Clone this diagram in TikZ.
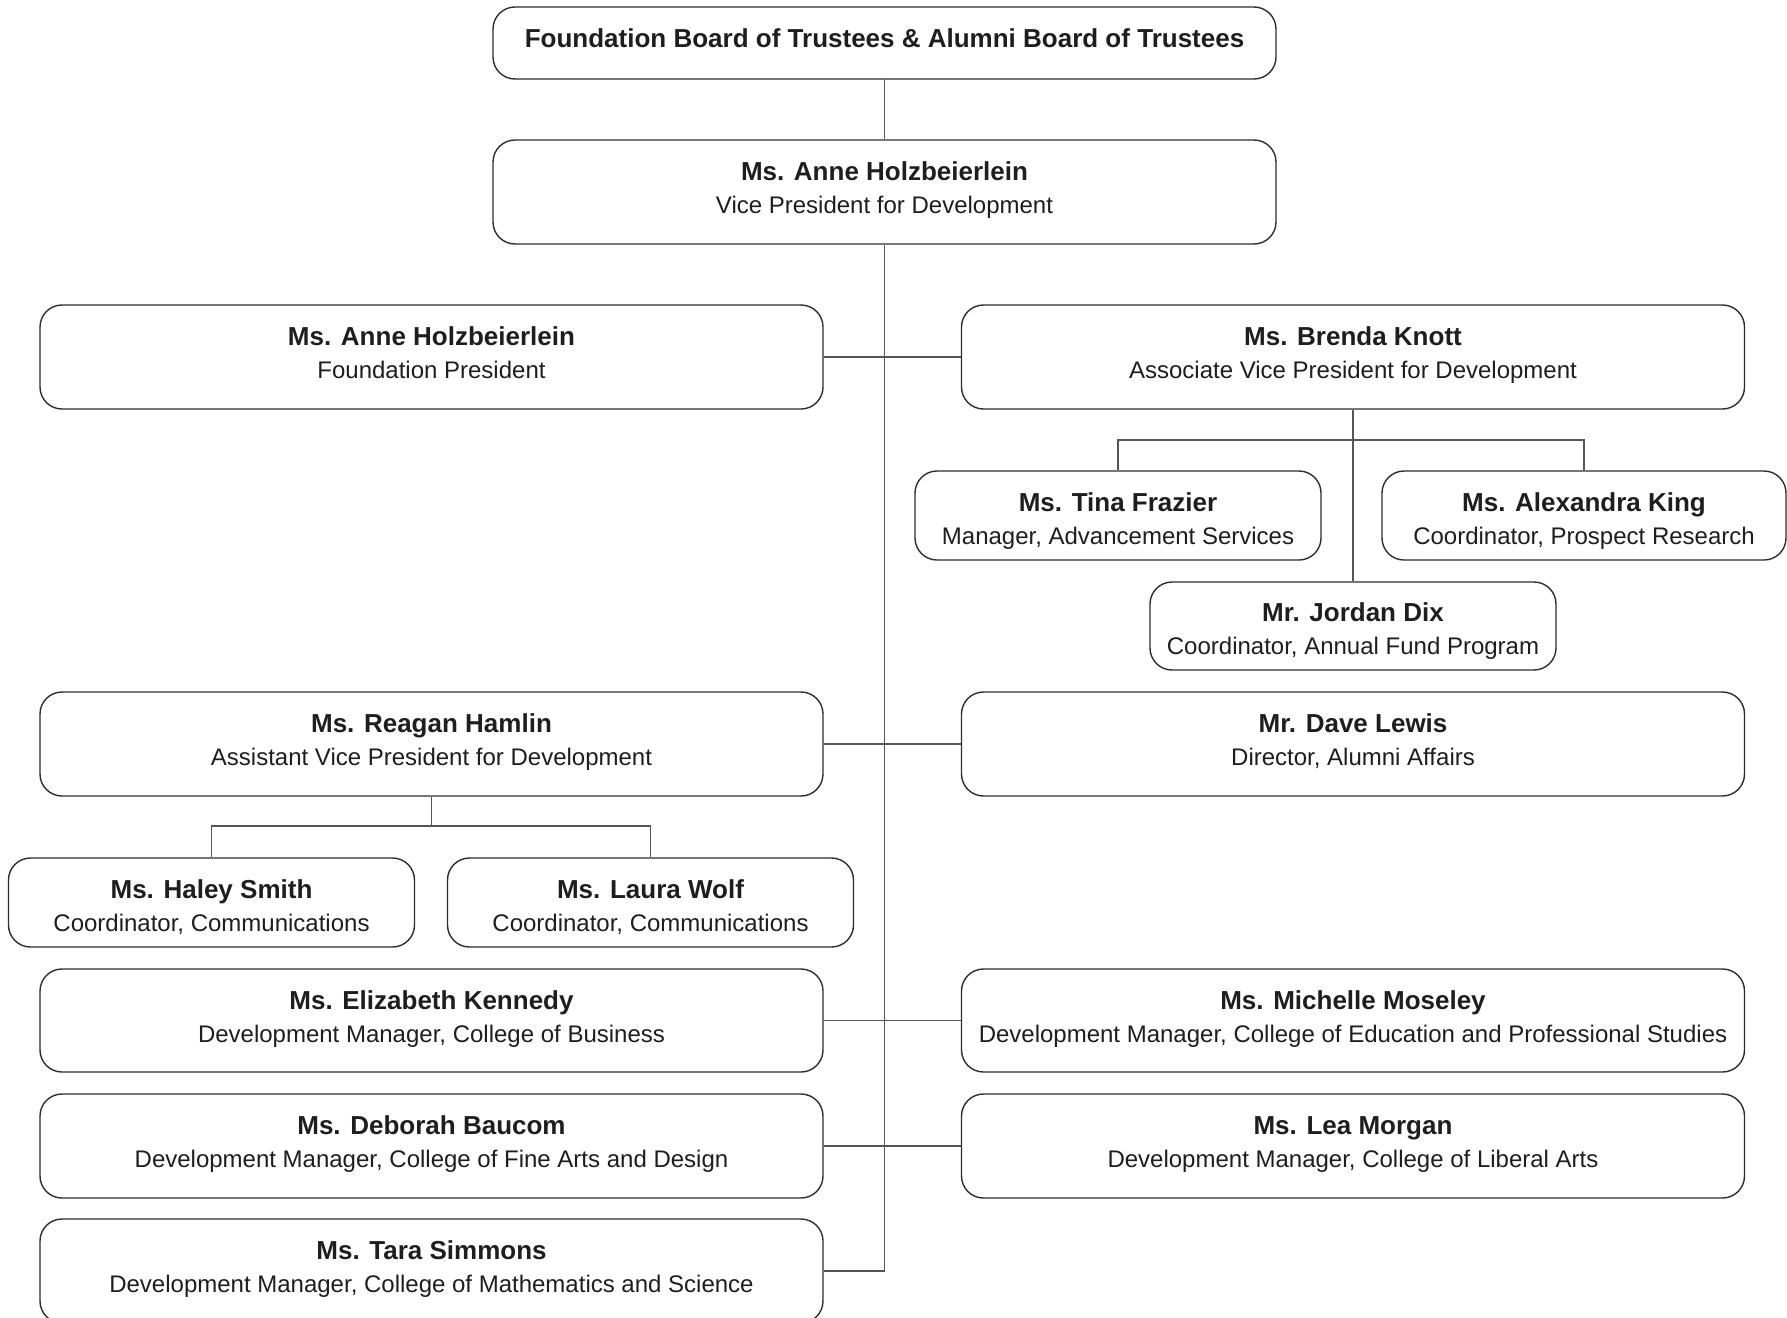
\documentclass[tikz,border=0pt]{standalone}
\usepackage{fontspec}
\setmainfont{Liberation Sans}
\definecolor{boxc}{HTML}{2E2E2E}
\definecolor{linec}{HTML}{555555}
\definecolor{txtc}{HTML}{1E1E1E}
\newcommand\pname[1]{{\fontsize{26}{33}\selectfont\bfseries #1}}
\newcommand\wtxt[2]{\rule{0pt}{20pt}\pname{#1}\\#2\rule[-10pt]{0pt}{0pt}}
\newcommand\stxt[2]{\rule{0pt}{30pt}\pname{#1}\\#2\rule[-6pt]{0pt}{0pt}}
\tikzset{
  box/.style={draw=boxc, line width=1.4pt, rounded corners=22pt, align=center,
    inner sep=0pt, text=txtc, font=\fontsize{24}{33}\selectfont},
  wide/.style={box, minimum width=783pt, minimum height=104pt},
  small/.style={box, minimum width=406pt, minimum height=89pt},
  conn/.style={draw=linec, line width=1.4pt}
}
\begin{document}
\begin{tikzpicture}[x=1pt,y=-1pt]
\useasboundingbox (0,0) rectangle (1787,1317);
\fill[white] (0,0) rectangle (1787,1317);

\node[box, minimum width=783pt, minimum height=72pt] (top) at (884.5,43) {\rule[-11pt]{0pt}{31pt}\pname{Foundation Board of Trustees \& Alumni Board of Trustees}};
\node[wide] (vp) at (884.5,192) {\wtxt{Ms. Anne Holzbeierlein}{Vice President for Development}};
\node[wide] (fp) at (431.5,357) {\wtxt{Ms. Anne Holzbeierlein}{Foundation President}};
\node[wide] (bk) at (1353,357) {\wtxt{Ms. Brenda Knott}{Associate Vice President for Development}};
\node[small] (tf) at (1118,515.5) {\stxt{Ms. Tina Frazier}{Manager, Advancement Services}};
\node[small, minimum width=404pt] (ak) at (1584,515.5) {\stxt{Ms. Alexandra King}{Coordinator, Prospect Research}};
\node[small, minimum height=88pt] (jd) at (1353,626) {\stxt{Mr. Jordan Dix}{Coordinator, Annual Fund Program}};
\node[wide] (rh) at (431.5,744) {\wtxt{Ms. Reagan Hamlin}{Assistant Vice President for Development}};
\node[wide] (dl) at (1353,744) {\wtxt{Mr. Dave Lewis}{Director, Alumni Affairs}};
\node[small] (hs) at (211.5,902.5) {\stxt{Ms. Haley Smith}{Coordinator, Communications}};
\node[small] (lw) at (650.5,902.5) {\stxt{Ms. Laura Wolf}{Coordinator, Communications}};
\node[wide, minimum height=103pt] (ek) at (431.5,1020.5) {\wtxt{Ms. Elizabeth Kennedy}{Development Manager, College of Business}};
\node[wide, minimum height=103pt] (mm) at (1353,1020.5) {\wtxt{Ms. Michelle Moseley}{Development Manager, College of Education and Professional Studies}};
\node[wide] (db) at (431.5,1146) {\wtxt{Ms. Deborah Baucom}{Development Manager, College of Fine Arts and Design}};
\node[wide] (lm) at (1353,1146) {\wtxt{Ms. Lea Morgan}{Development Manager, College of Liberal Arts}};
\node[wide] (ts) at (431.5,1271) {\wtxt{Ms. Tara Simmons}{Development Manager, College of Mathematics and Science}};

\coordinate (bkbar) at (1353,440);
\coordinate (rhbar) at (431.5,826);

\draw[conn] (top.south) -- (vp.north);
\draw[conn] (vp.south) |- (ts.east);
\draw[conn] (fp.east) -- (bk.west);
\draw[conn] (rh.east) -- (dl.west);
\draw[conn] (ek.east) -- (mm.west);
\draw[conn] (db.east) -- (lm.west);
\draw[conn] (bk.south) -- (jd.north);
\draw[conn] (tf.north) |- (bkbar) -| (ak.north);
\draw[conn] (rh.south) -- (rhbar);
\draw[conn] (hs.north) |- (rhbar) -| (lw.north);
\end{tikzpicture}
\end{document}
